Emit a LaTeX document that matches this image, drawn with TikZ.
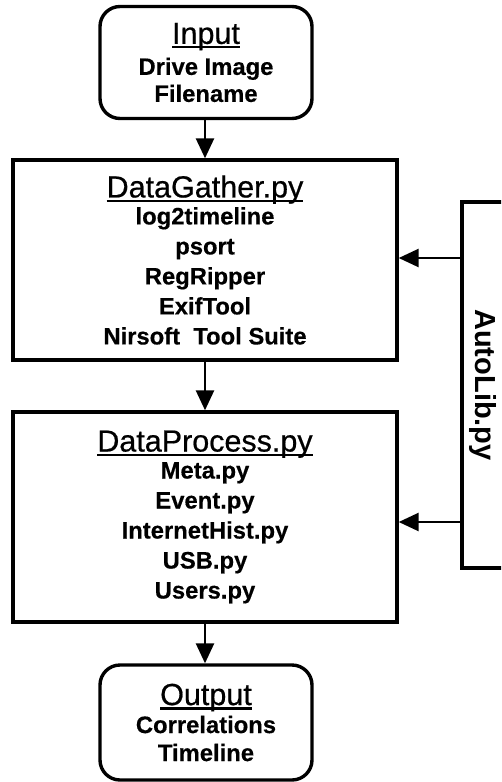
\documentclass[tikz,border=0pt]{standalone}
\usepackage{fontspec}
\setmainfont{Liberation Sans}
\newfontfamily\titlefont{Liberation Sans}[FakeBold=0.6]
\newfontfamily\bodyfont{Liberation Sans}[BoldFeatures={FakeBold=0.4}]
\usetikzlibrary{arrows.meta}
\newcommand\boxtitle[1]{{\titlefont\mdseries\fontsize{30.5}{34}\selectfont\setbox0\hbox{#1}\rlap{\rule[-4.5pt]{\wd0}{2.2pt}}\box0}}
\begin{document}
\begin{tikzpicture}[x=1pt,y=-1pt,
  boxbase/.style={draw=black,line width=3.4pt,inner sep=0pt,align=center,
    font=\bodyfont\bfseries\fontsize{23.8}{30}\selectfont},
  rbox/.style={boxbase,rounded corners=20pt,minimum width=212pt,minimum height=112pt},
  sbox/.style={boxbase,minimum width=384pt},
  arr/.style={line width=2.6pt,-{Triangle[length=20pt,width=18pt]}},
  sidetext/.style={rotate=-90,font=\bfseries\fontsize{29}{34}\selectfont}]
\useasboundingbox (0,0) rectangle (501,782);
\clip (0,0) rectangle (501,782);
\node[rbox] (input) at (206,62.5) {\boxtitle{Input}\\[1pt] Drive Image\\[-3pt] Filename};
\node[sbox,minimum height=200pt] (gather) at (205,260) {\boxtitle{DataGather.py}\\[-3pt] log2timeline\\ psort\\ RegRipper\\ ExifTool\\ Nirsoft\ \ Tool Suite};
\node[sbox,minimum height=210pt] (process) at (205,517) {\boxtitle{DataProcess.py}\\[-3pt] Meta.py\\ Event.py\\ InternetHist.py\\ USB.py\\ Users.py};
\node[rbox,minimum height=115pt] (output) at (206,722.5) {\boxtitle{Output}\\[-2pt] Correlations\\[-2pt] Timeline};
\node[draw=black,line width=3.4pt,inner sep=0pt,minimum width=80pt,minimum height=366pt] (autolib) at (502,385) {};
\node[sidetext] (autolibtext) at (483,385) {AutoLib.py};
\draw[arr] (input.south -| gather.north) -- (gather.north);
\draw[arr] (gather.south) -- (process.north);
\draw[arr] (process.south) -- (process.south |- output.north);
\draw[arr] ([yshift=2pt]gather.east -| autolib.west) -- ([yshift=2pt]gather.east);
\draw[arr] ([yshift=-5pt]process.east -| autolib.west) -- ([yshift=-5pt]process.east);
\end{tikzpicture}
\end{document}
